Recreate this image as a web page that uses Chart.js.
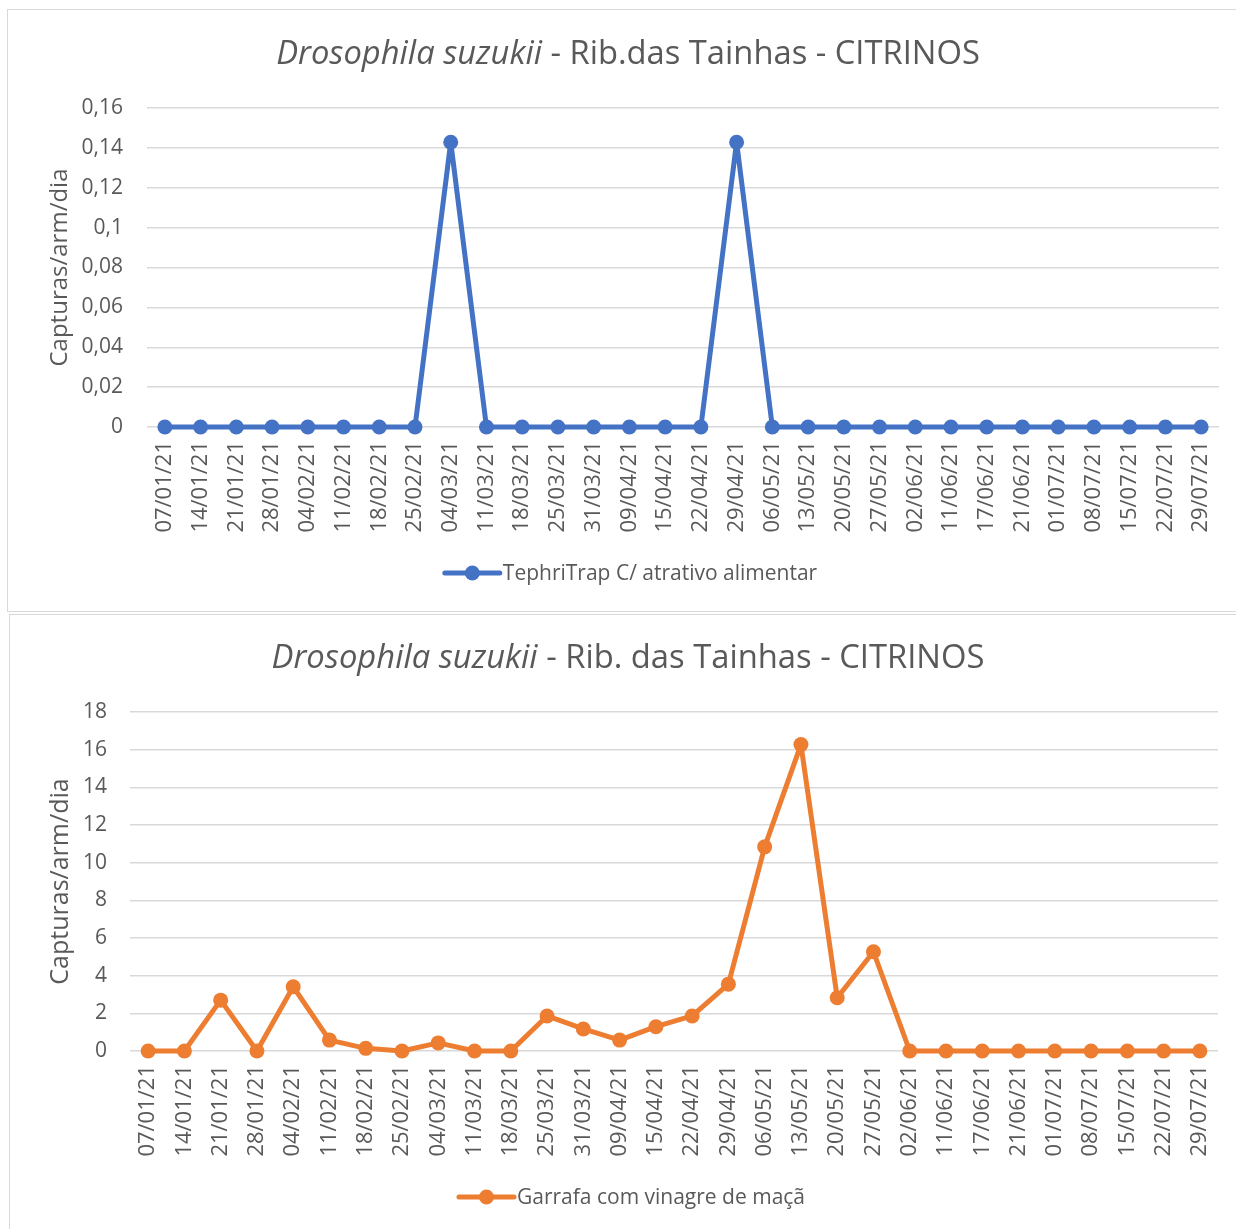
<!DOCTYPE html>
<html><head><meta charset="utf-8">
<script src="https://cdn.jsdelivr.net/npm/chart.js@4"></script>
<style>
html,body{margin:0;padding:0;background:#fff;}
body{width:1236px;height:1229px;position:relative;overflow:hidden;}
.box{position:absolute;border:1.5px solid #d9d9d9;box-sizing:border-box;}
.wrap{position:absolute;left:0;width:1236px;}
</style></head><body>
<div class="box" style="left:7px;top:9px;width:1240px;height:603px"></div>
<div class="box" style="left:9px;top:614px;width:1240px;height:630px"></div>
<div class="wrap" style="top:0;height:612px"><canvas id="c1"></canvas></div>
<div class="wrap" style="top:613px;height:616px"><canvas id="c2"></canvas></div>
<script>
const categories = ['07/01/21','14/01/21','21/01/21','28/01/21','04/02/21','11/02/21','18/02/21','25/02/21','04/03/21','11/03/21','18/03/21','25/03/21','31/03/21','09/04/21','15/04/21','22/04/21','29/04/21','06/05/21','13/05/21','20/05/21','27/05/21','02/06/21','11/06/21','17/06/21','21/06/21','01/07/21','08/07/21','15/07/21','22/07/21','29/07/21'];
const tephriValues = [0,0,0,0,0,0,0,0,0.142857,0,0,0,0,0,0,0,0.142857,0,0,0,0,0,0,0,0,0,0,0,0,0];
const garrafaValues = [0,0,2.7,0,3.41,0.58,0.14,0,0.43,0,0,1.86,1.17,0.58,1.29,1.86,3.55,10.84,16.27,2.83,5.27,0,0,0,0,0,0,0,0,0];
const topTicks = [0,0.02,0.04,0.06,0.08,0.1,0.12,0.14,0.16];
const bottomTicks = [0,2,4,6,8,10,12,14,16,18];
const topTitle = ['Drosophila suzukii', ' - Rib.das Tainhas - CITRINOS'];
const bottomTitle = ['Drosophila suzukii', ' - Rib. das Tainhas - CITRINOS'];
const topLegend = 'TephriTrap C/ atrativo alimentar';
const bottomLegend = 'Garrafa com vinagre de maçã';
const yTitle = 'Capturas/arm/dia';

const FONT = '"Open Sans"';
const TXT = '#595959';
const GRID = '#d9d9d9';

function deco(cfg, color) {
  return {
    id: 'deco',
    afterDraw(chart) {
      const ctx = chart.ctx;
      ctx.save();
      ctx.fillStyle = TXT;
      ctx.textBaseline = 'middle';
      ctx.textAlign = 'left';
      let ts = 30;
      ctx.font = 'italic ' + ts + 'px ' + FONT; let a = ctx.measureText(cfg.title[0]).width;
      ctx.font = ts + 'px ' + FONT; let b = ctx.measureText(cfg.title[1]).width;
      ts = ts * cfg.tw / (a + b);
      const fi = 'italic ' + ts + 'px ' + FONT, fn = ts + 'px ' + FONT;
      ctx.font = fi; const w1 = ctx.measureText(cfg.title[0]).width;
      ctx.font = fn; const w2 = ctx.measureText(cfg.title[1]).width;
      const x = cfg.tcx - (w1 + w2) / 2;
      ctx.font = fi; ctx.fillText(cfg.title[0], x, cfg.tcy);
      ctx.font = fn; ctx.fillText(cfg.title[1], x + w1, cfg.tcy);
      ctx.font = cfg.ls + 'px ' + FONT;
      const lw = ctx.measureText(cfg.legend).width;
      const total = 55 + 3 + lw;
      const lx = cfg.lcx - total / 2;
      ctx.strokeStyle = color; ctx.lineWidth = 5; ctx.lineCap = 'round';
      ctx.beginPath(); ctx.moveTo(lx, cfg.lcy); ctx.lineTo(lx + 55, cfg.lcy); ctx.stroke();
      ctx.fillStyle = color;
      ctx.beginPath(); ctx.arc(lx + 27.5, cfg.lcy, 7.5, 0, Math.PI * 2); ctx.fill();
      ctx.fillStyle = TXT;
      ctx.fillText(cfg.legend, lx + 58, cfg.lcy + 1);
      ctx.restore();
    }
  };
}

function makeChart(id, values, color, ticks, fmt, cfg) {
  return new Chart(document.getElementById(id), {
    type: 'line',
    data: { labels: categories, datasets: [{ data: values, borderColor: color, backgroundColor: color,
      borderWidth: 5, borderJoinStyle: 'round', borderCapStyle: 'round', clip: false,
      pointRadius: 7.5, pointHoverRadius: 7.5, pointBorderWidth: 0, tension: 0 }] },
    options: {
      responsive: true, maintainAspectRatio: false, animation: false,
      layout: { padding: { top: cfg.top, right: cfg.right, bottom: 0, left: 0 } },
      plugins: { legend: { display: false }, title: { display: false }, tooltip: { enabled: false } },
      scales: {
        x: {
          offset: true,
          grid: { display: false, drawTicks: false },
          border: { display: false },
          ticks: { color: TXT, font: { family: FONT, size: 22 }, minRotation: 90, maxRotation: 90, padding: 14, autoSkip: false },
          afterFit(s) { s.height = cfg.xh; s.paddingLeft = 0; s.paddingRight = 0; }
        },
        y: {
          min: ticks[0], max: ticks[ticks.length - 1],
          afterBuildTicks(s) { s.ticks = ticks.map(v => ({ value: v })); },
          grid: { color: GRID, lineWidth: 1.4, drawTicks: false },
          border: { display: false },
          ticks: { color: TXT, font: { family: FONT, size: 21 }, padding: cfg.tp, callback: fmt },
          title: { display: true, text: yTitle, color: TXT, font: { family: FONT, size: cfg.yts }, padding: { top: cfg.ytp, bottom: 0 } },
          afterFit(s) { s.width = cfg.yw; }
        }
      }
    },
    plugins: [deco(cfg, color)]
  });
}

makeChart('c1', tephriValues, '#4472C4', topTicks,
  v => (v === 0 ? '0' : String(Number(v.toFixed(2))).replace('.', ',')),
  { top: 108, right: 17, xh: 185, yw: 147, tp: 24, yts: 24, ytp: 46, title: topTitle, legend: topLegend, tw: 704, tcx: 628, tcy: 55, ls: 21, lcx: 631, lcy: 573 });

makeChart('c2', garrafaValues, '#ED7D31', bottomTicks,
  v => String(v),
  { top: 99, right: 18, xh: 178, yw: 130, tp: 23, yts: 25, ytp: 46, title: bottomTitle, legend: bottomLegend, tw: 713, tcx: 628, tcy: 46, ls: 21, lcx: 632, lcy: 584 });
</script>
</body></html>
